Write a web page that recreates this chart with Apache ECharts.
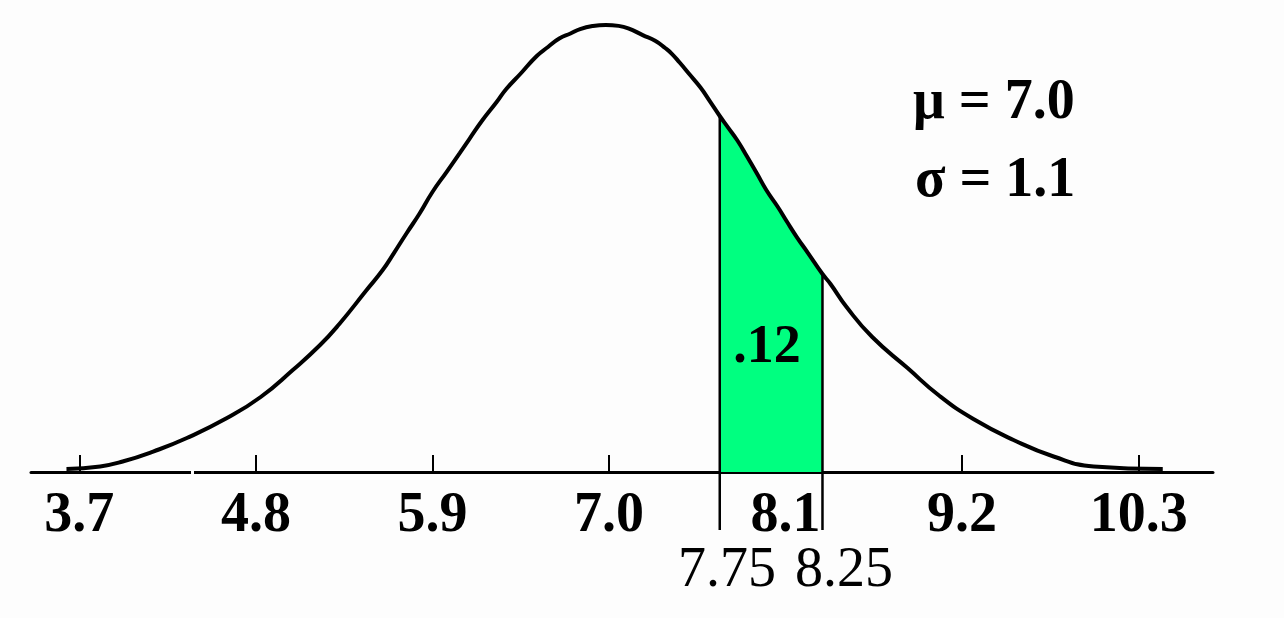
<!DOCTYPE html>
<html>
<head>
<meta charset="utf-8">
<script src="https://cdn.jsdelivr.net/npm/echarts@6/dist/echarts.min.js"></script>
<style>
  html, body { margin: 0; padding: 0; background: #fdfdfd; }
  #chart { width: 1284px; height: 618px; }
</style>
</head>
<body>
<div id="chart"></div>
<script>
// Curve points: x value and curve height (density)
const curveX = [3.62, 3.83, 3.97, 4.16, 4.37, 4.62, 4.83, 5.03, 5.20, 5.32, 5.49, 5.59, 5.66, 5.74, 5.82, 5.90, 5.99, 6.07, 6.13, 6.21, 6.30, 6.36, 6.45, 6.55, 6.62, 6.69, 6.76, 6.82, 6.90, 6.98, 7.06, 7.12, 7.21, 7.29, 7.35, 7.39, 7.44, 7.50, 7.57, 7.63, 7.69, 7.74, 7.80, 7.86, 7.92, 7.98, 8.05, 8.11, 8.17, 8.24, 8.33, 8.38, 8.48, 8.64, 8.86, 9.06, 9.27, 9.52, 9.77, 10.02, 10.45];
const curveY = [0.0024, 0.0045, 0.0085, 0.0166, 0.0276, 0.0438, 0.0609, 0.0828, 0.1031, 0.1202, 0.1478, 0.1640, 0.1778, 0.1941, 0.2099, 0.2274, 0.2440, 0.2590, 0.2704, 0.2854, 0.3004, 0.3110, 0.3236, 0.3378, 0.3451, 0.3520, 0.3561, 0.3597, 0.3622, 0.3630, 0.3623, 0.3603, 0.3548, 0.3500, 0.3443, 0.3398, 0.3325, 0.3232, 0.3122, 0.3008, 0.2891, 0.2801, 0.2692, 0.2562, 0.2428, 0.2290, 0.2156, 0.2030, 0.1908, 0.1778, 0.1608, 0.1527, 0.1340, 0.1096, 0.0844, 0.0617, 0.0430, 0.0260, 0.0126, 0.0045, 0.0024];
// Tick labels on the axis
const tickValues = [3.7, 4.8, 5.9, 7.0, 8.1, 9.2, 10.3];
// Shaded interval (positions) and its labels
const shadeBounds = [7.69, 8.33];
const shadeLabels = ['7.75', '8.25'];
const areaLabel = '.12';
const paramLabels = ['\u03bc = 7.0', '\u03c3 = 1.1'];

const curveData = curveX.map((x, i) => [x, curveY[i]]);
const shadeData = curveData.filter(p => p[0] >= shadeBounds[0] - 1e-9 && p[0] <= shadeBounds[1] + 1e-9);
const boundData = shadeBounds.map(b => {
  const p = curveData.find(q => Math.abs(q[0] - b) < 1e-9);
  return [b, p[1]];
});

const chart = echarts.init(document.getElementById('chart'), null, { renderer: 'canvas' });
const serif = '"Liberation Serif", "Times New Roman", serif';

chart.setOption({
  backgroundColor: '#fdfdfd',
  animation: false,
  grid: { left: 31, right: 71, top: 25, bottom: 146, containLabel: false },
  xAxis: {
    type: 'value',
    min: 3.399,
    max: 10.763,
    splitLine: { show: false },
    axisLine: { show: true, onZero: false, lineStyle: { color: '#000', width: 3 } },
    axisTick: { show: true, inside: true, length: 17, lineStyle: { color: '#000', width: 2 }, customValues: tickValues },
    axisLabel: {
      show: true, customValues: tickValues, margin: 17,
      formatter: v => v.toFixed(1),
      color: '#000', fontFamily: serif, fontWeight: 'bold', fontSize: 56
    }
  },
  yAxis: { type: 'value', min: 0, max: 0.363, show: false },
  series: [
    {
      type: 'line', data: shadeData, symbol: 'none', smooth: 0.5,
      lineStyle: { width: 0 },
      areaStyle: { color: '#00FF80', opacity: 1 },
      z: 1
    },
    {
      type: 'custom',
      data: boundData,
      clip: false,
      z: 3,
      renderItem: (params, api) => {
        const top = api.coord([api.value(0), api.value(1)]);
        const base = api.coord([api.value(0), 0]);
        return {
          type: 'line',
          shape: { x1: top[0], y1: top[1], x2: base[0], y2: base[1] + 58 },
          style: { stroke: '#000', lineWidth: 2.5 }
        };
      }
    },
    {
      type: 'line', data: curveData, symbol: 'none', smooth: 0.5,
      lineStyle: { color: '#000', width: 4 },
      z: 4
    }
  ],
  graphic: [
    { type: 'rect', shape: { x: 191, y: 469, width: 3, height: 7 }, style: { fill: '#fdfdfd' }, z: 100 },
    { type: 'text', x: 767, y: 348, style: { text: areaLabel, fill: '#000', font: 'bold 54px ' + serif, textAlign: 'center', textVerticalAlign: 'middle' }, z: 100 },
    { type: 'text', x: 727, y: 571, style: { text: shadeLabels[0], fill: '#000', font: '56px ' + serif, textAlign: 'center', textVerticalAlign: 'middle' }, z: 100 },
    { type: 'text', x: 844, y: 571, style: { text: shadeLabels[1], fill: '#000', font: '56px ' + serif, textAlign: 'center', textVerticalAlign: 'middle' }, z: 100 },
    { type: 'text', x: 913, y: 104, style: { text: paramLabels[0], fill: '#000', font: 'bold 56px ' + serif, textAlign: 'left', textVerticalAlign: 'middle' }, z: 100 },
    { type: 'text', x: 915, y: 182, style: { text: paramLabels[1], fill: '#000', font: 'bold 56px ' + serif, textAlign: 'left', textVerticalAlign: 'middle' }, z: 100 }
  ]
});
</script>
</body>
</html>
